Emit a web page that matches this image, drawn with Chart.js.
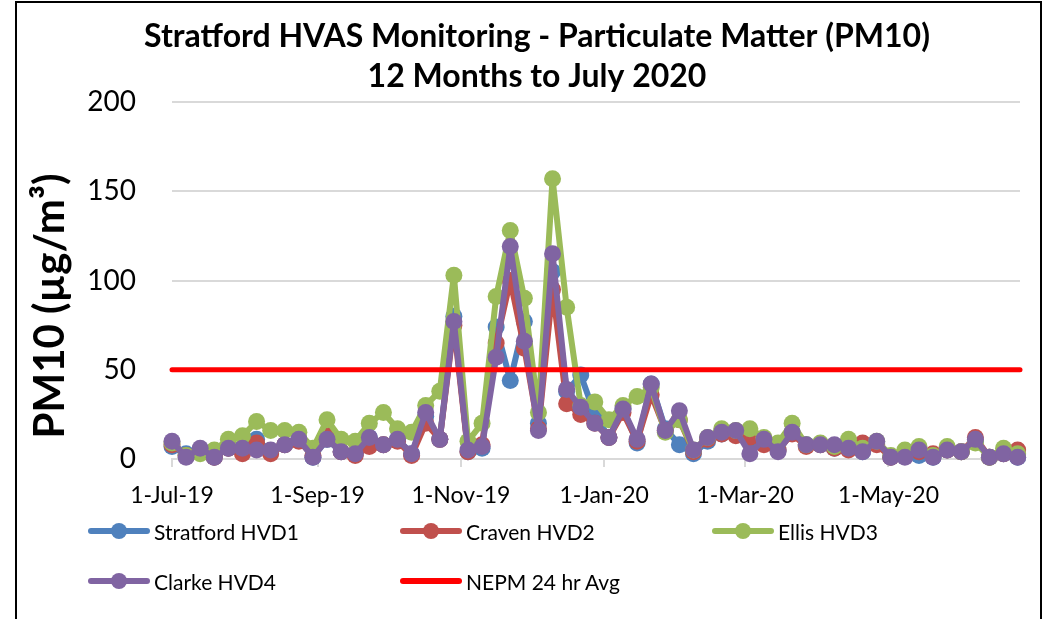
<!DOCTYPE html>
<html lang="en">
<head>
    <meta charset="UTF-8">
    <title>Stratford HVAS Monitoring - PM10</title>
    <script src="https://cdn.jsdelivr.net/npm/chart.js"></script>
    <style>
        body { margin: 0; background: #fff; font-family: Lato, sans-serif; }
        #wrap { position: relative; width: 1056px; height: 619px; overflow: hidden; }
        #frame {
            position: absolute; left: 15px; top: 1px; width: 1027px; height: 700px;
            border: 2px solid #000; box-sizing: border-box;
        }
        #chart { position: absolute; left: 0; top: 0; }
        #legend {
            position: absolute; left: 88px; top: 506px;
            display: grid; grid-template-columns: 312px 312px 312px; grid-auto-rows: 50px;
        }
        .item { display: flex; align-items: center; font-size: 21px; color: #000; }
        .icon { position: relative; width: 62px; height: 16px; margin-right: 4px; }
        .icon .ln { position: absolute; left: 0; right: 0; top: 5px; height: 6px; border-radius: 3px; }
        .icon .dot { position: absolute; left: 23px; top: 0; width: 16px; height: 16px; border-radius: 50%; }
    </style>
</head>
<body>
<div id="wrap">
    <div id="frame"></div>
    <canvas id="chart" width="1056" height="619"></canvas>
    <div id="legend"></div>
</div>

<script>
    // HVAS sample dates (1 in 6 day run)
    const dates = [
        '2019-07-01', '2019-07-07', '2019-07-13', '2019-07-19', '2019-07-25', '2019-07-31',
        '2019-08-06', '2019-08-12', '2019-08-18', '2019-08-24', '2019-08-30',
        '2019-09-05', '2019-09-11', '2019-09-17', '2019-09-23', '2019-09-29',
        '2019-10-05', '2019-10-11', '2019-10-17', '2019-10-23', '2019-10-29',
        '2019-11-04', '2019-11-10', '2019-11-16', '2019-11-22', '2019-11-28',
        '2019-12-04', '2019-12-10', '2019-12-16', '2019-12-22', '2019-12-28',
        '2020-01-03', '2020-01-09', '2020-01-15', '2020-01-21', '2020-01-27',
        '2020-02-02', '2020-02-08', '2020-02-14', '2020-02-20', '2020-02-26',
        '2020-03-03', '2020-03-09', '2020-03-15', '2020-03-21', '2020-03-27',
        '2020-04-02', '2020-04-08', '2020-04-14', '2020-04-20', '2020-04-26',
        '2020-05-02', '2020-05-08', '2020-05-14', '2020-05-20', '2020-05-26',
        '2020-06-01', '2020-06-07', '2020-06-13', '2020-06-19', '2020-06-25'
    ];

    // PM10 (ug/m3)
    const stratford = [7, 3, 5, 1, 6, 6, 11, 4, 8, 11,
        1, 11, 4, 3, 12, 8, 11, 3, 24, 11,
        80, 4, 6, 74, 44, 77, 20, 105, 38, 47,
        25, 12, 28, 9, 42, 17, 8, 3, 10, 14,
        15, 10, 10, 5, 15, 8, 8, 6, 6, 4,
        9, 1, 2, 2, 1, 5, 4, 10, 1, 3, 1];
    const craven = [8, 2, 5, 1, 6, 3, 9, 3, 8, 10,
        2, 14, 4, 2, 7, 8, 10, 2, 20, 11,
        75, 4, 8, 65, 100, 62, 17, 95, 31, 25,
        20, 12, 26, 10, 36, 16, 22, 4, 11, 14,
        13, 12, 8, 5, 14, 7, 8, 6, 5, 9,
        8, 1, 3, 4, 3, 5, 4, 12, 1, 3, 5];
    const ellis = [9, 2, 3, 5, 11, 13, 21, 16, 16, 15,
        6, 22, 11, 10, 20, 26, 17, 15, 30, 38,
        103, 10, 20, 91, 128, 90, 26, 157, 85, 30,
        32, 22, 30, 35, 40, 15, 22, 5, 12, 17,
        16, 17, 12, 9, 20, 8, 9, 7, 11, 6,
        10, 2, 5, 7, 2, 7, 4, 9, 1, 6, 3];
    const clarke = [10, 1, 6, 1, 6, 6, 5, 5, 8, 11,
        1, 11, 4, 3, 12, 8, 11, 3, 26, 11,
        77, 5, 7, 57, 119, 66, 16, 115, 39, 29,
        20, 12, 28, 11, 42, 16, 27, 5, 12, 15,
        16, 3, 11, 4, 15, 8, 8, 8, 6, 4,
        10, 1, 1, 5, 1, 5, 4, 11, 1, 3, 1];
    const nepmLimit = 50;

    const xTickDates = ['2019-07-01', '2019-09-01', '2019-11-01', '2020-01-01', '2020-03-01', '2020-05-01'];
    const xTickLabels = ['1-Jul-19', '1-Sep-19', '1-Nov-19', '1-Jan-20', '1-Mar-20', '1-May-20'];
    const yTicks = [0, 50, 100, 150, 200];

    const dayOf = (s) => Math.round((Date.parse(s) - Date.parse(dates[0])) / 86400000);
    const xDays = dates.map(dayOf);
    const xTickDays = xTickDates.map(dayOf);
    const pts = (arr) => arr.map((v, i) => ({ x: xDays[i], y: v }));

    const series = [
        { label: 'Stratford HVD1', data: stratford, color: '#4F81BD' },
        { label: 'Craven HVD2', data: craven, color: '#C0504D' },
        { label: 'Ellis HVD3', data: ellis, color: '#9BBB59' },
        { label: 'Clarke HVD4', data: clarke, color: '#8064A2' }
    ];

    const datasets = series.map((s, i) => ({
        label: s.label,
        data: pts(s.data),
        borderColor: s.color,
        backgroundColor: s.color,
        borderWidth: 6,
        borderJoinStyle: 'round',
        borderCapStyle: 'round',
        pointRadius: 8.5,
        pointBorderWidth: 0,
        pointBackgroundColor: s.color,
        clip: false,
        order: 5 - i
    }));
    datasets.push({
        label: 'NEPM 24 hr Avg',
        data: [{ x: xDays[0], y: nepmLimit }, { x: xDays[xDays.length - 1] + 1, y: nepmLimit }],
        borderColor: '#FF0000',
        backgroundColor: '#FF0000',
        borderWidth: 5,
        borderCapStyle: 'round',
        pointRadius: 0,
        clip: false,
        order: 1
    });

    // y axis title drawn by hand so it can sit where Excel puts it
    const yTitlePlugin = {
        id: 'yTitle',
        afterDraw(chart) {
            const ctx = chart.ctx;
            ctx.save();
            ctx.translate(50, 306);
            ctx.rotate(-Math.PI / 2);
            ctx.font = 'bold 42px Lato';
            ctx.fillStyle = '#000';
            ctx.textAlign = 'center';
            ctx.textBaseline = 'middle';
            ctx.fillText('PM10 (µg/m³)', 0, 0);
            ctx.restore();
        }
    };

    const gridGrey = '#d9d9d9';

    new Chart(document.getElementById('chart'), {
        type: 'line',
        data: { datasets },
        plugins: [yTitlePlugin],
        options: {
            responsive: false,
            animation: false,
            devicePixelRatio: 1,
            layout: { padding: { left: 18, right: 0, top: 0, bottom: 0 } },
            plugins: {
                legend: { display: false },
                tooltip: { enabled: false },
                title: {
                    display: true,
                    text: ['Stratford HVAS Monitoring - Particulate Matter (PM10)', '12 Months to July 2020'],
                    color: '#000',
                    font: { family: 'Lato', size: 32, weight: 'bold', lineHeight: 1.25 },
                    padding: { top: 17, bottom: 5 }
                }
            },
            scales: {
                x: {
                    type: 'linear',
                    min: 0,
                    max: 361,
                    afterBuildTicks: (scale) => { scale.ticks = xTickDays.map(v => ({ value: v })); },
                    afterFit: (scale) => { scale.height = 160; },
                    ticks: {
                        autoSkip: false,
                        maxRotation: 0,
                        padding: 15,
                        color: '#000',
                        font: { family: 'Lato', size: 23 },
                        callback: (v) => xTickLabels[xTickDays.indexOf(v)]
                    },
                    grid: { drawOnChartArea: false, drawTicks: true, tickLength: 8, color: gridGrey, lineWidth: 2 },
                    border: { display: true, color: gridGrey, width: 2 }
                },
                y: {
                    min: 0,
                    max: 200,
                    afterBuildTicks: (scale) => { scale.ticks = yTicks.map(v => ({ value: v })); },
                    afterFit: (scale) => { scale.width = 154; },
                    ticks: {
                        padding: 36,
                        color: '#000',
                        font: { family: 'Lato', size: 28 }
                    },
                    grid: { color: gridGrey, lineWidth: 2, drawTicks: false },
                    border: { display: false }
                },
                yRight: {
                    axis: 'y',
                    position: 'right',
                    min: 0,
                    max: 200,
                    afterFit: (scale) => { scale.width = 36; },
                    ticks: { display: false },
                    grid: { display: false },
                    border: { display: false }
                }
            }
        }
    });

    // legend laid out in Excel's three-column grid
    const legendEl = document.getElementById('legend');
    datasets.forEach((d) => {
        const item = document.createElement('div');
        item.className = 'item';
        const icon = document.createElement('span');
        icon.className = 'icon';
        const ln = document.createElement('span');
        ln.className = 'ln';
        ln.style.background = d.borderColor;
        icon.appendChild(ln);
        if (d.pointRadius > 0) {
            const dot = document.createElement('span');
            dot.className = 'dot';
            dot.style.background = d.borderColor;
            icon.appendChild(dot);
        }
        item.appendChild(icon);
        item.appendChild(document.createTextNode(d.label));
        legendEl.appendChild(item);
    });
</script>
</body>
</html>
